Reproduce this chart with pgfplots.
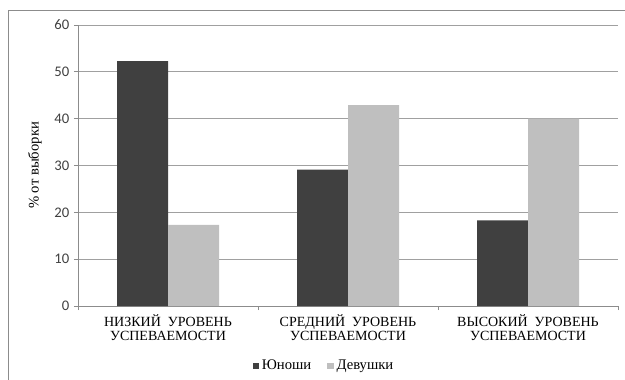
\documentclass[border=0pt]{standalone}
\usepackage{pgfplots}
\pgfplotsset{compat=1.18}
\usepackage{fontspec}
\setmainfont{Liberation Serif}
\newfontfamily\calibri{Carlito}
\definecolor{dark}{HTML}{404040}
\definecolor{light}{HTML}{BFBFBF}
\definecolor{gridc}{HTML}{A0A0A0}
\definecolor{axc}{HTML}{8C8C8C}
\begin{document}
\begin{tikzpicture}
\useasboundingbox (0,0) rectangle (468.75pt,284.25pt);
\draw[axc, line width=0.75pt] (6pt,-2pt) -- (6pt,276pt) -- (472pt,276pt);
\begin{axis}[
  at={(58.5pt,54.75pt)}, anchor=south west,
  scale only axis, width=405pt, height=210.75pt,
  xmin=-0.5, xmax=2.5, ymin=0, ymax=60,
  ybar=0pt, bar width=38.25pt,
  axis x line*=bottom, axis y line*=left,
  axis line style={axc, line width=0.75pt},
  ytick={0,10,...,60},
  ymajorgrids, grid style={gridc, line width=0.75pt},
  xtick={0,1,2},
  xticklabels={{НИЗКИЙ\ \ УРОВЕНЬ\\УСПЕВАЕМОСТИ},{СРЕДНИЙ\ \ УРОВЕНЬ\\УСПЕВАЕМОСТИ},{ВЫСОКИЙ\ \ УРОВЕНЬ\\УСПЕВАЕМОСТИ}},
  major x tick style={draw=none},
  minor xtick={-0.5,0.5,1.5,2.5},
  minor x tick style={axc, line width=0.75pt},
  tick align=outside,
  major tick length=3pt, minor tick length=3pt,
  y tick style={axc, line width=0.75pt},
  xticklabel style={font=\fontsize{10.5}{10.5}\selectfont, align=center, text=black},
  yticklabel style={font=\calibri\fontsize{11}{12}\selectfont, text=dark},
  /pgf/number format/assume math mode=true,
  ylabel={\% от выборки},
  ylabel style={at={(axis description cs:-0.0796,0.5)}, anchor=center, font=\fontsize{11}{12}\selectfont},
  legend style={at={(0.456,-0.2135)}, anchor=center, draw=none, legend columns=2,
    font=\fontsize{11}{12}\selectfont, /tikz/every even column/.append style={column sep=10pt}},
  legend image code/.code={\fill[#1] (0pt,-2.5pt) rectangle (5pt,2.5pt);},
]
\addplot[fill=dark, draw=none] coordinates {(0,52.3) (1,29.1) (2,18.3)};
\addplot[fill=light, draw=none] coordinates {(0,17.3) (1,42.9) (2,40.0)};
\legend{Юноши,Девушки}
\end{axis}
\end{tikzpicture}
\end{document}
